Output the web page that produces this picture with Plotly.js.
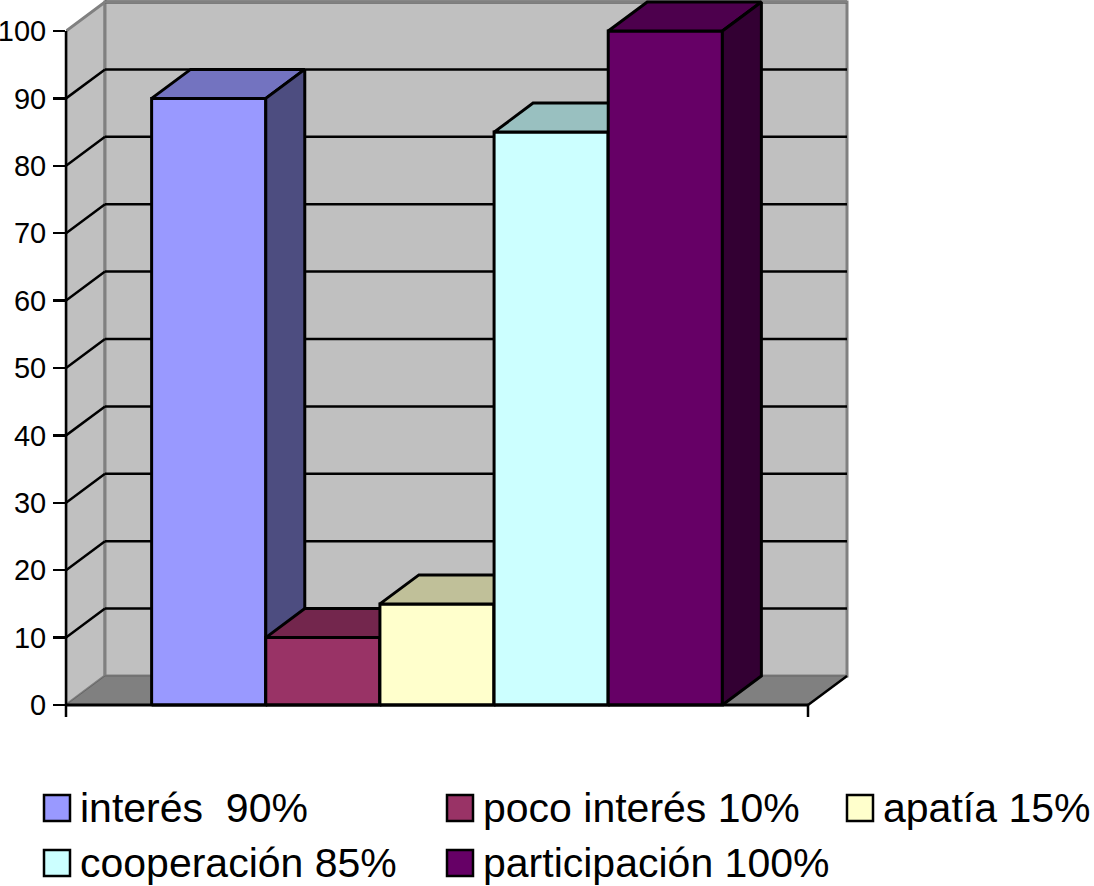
<!DOCTYPE html>
<html>
<head>
<meta charset="utf-8">
<script src="https://cdn.plot.ly/plotly-3.0.1.min.js"></script>
<style>html,body{margin:0;padding:0;background:#fff}#chart{width:1094px;height:886px}</style>
</head>
<body>
<div id="chart"></div>
<script>
// Data
var categories = ['interés\u00A0\u00A090%', 'poco interés 10%', 'apatía 15%', 'cooperación 85%', 'participación 100%'];
var values = [90, 10, 15, 85, 100];
var frontColors = ['#9999FF', '#993366', '#FFFFCC', '#CCFFFF', '#660066'];
var topColors = ['#7373C0', '#73264D', '#C0C099', '#99C0C0', '#4D004D'];
var sideColors = ['#4D4D80', '#4D1933', '#808066', '#668080', '#330033'];
var tickValues = [0, 10, 20, 30, 40, 50, 60, 70, 80, 90, 100];
var gridValues = [10, 20, 30, 40, 50, 60, 70, 80, 90, 100];

// Layout geometry
var W = 1094, H = 886, L = 66;
var unitX = 742 / 6.5, unitY = 6.74;
var xMin = -1.25, xAxisEnd = 5.25, xMax = xMin + (W - L) / unitX;
var yMax = 705 / unitY, yMin = (705 - H) / unitY;
var depthX = 39 / unitX, depthY = 29 / unitY;
function paperX(px) { return (px - L) / (W - L); }
function paperY(py) { return 1 - py / H; }
function xToPaper(x) { return (x - xMin) / (xMax - xMin); }

var traces = [];
values.forEach(function (v, i) {
  var l = i - 0.5, r = i + 0.5;
  var line = { color: '#000', width: 3 };
  function face(xs, ys, color) {
    traces.push({ type: 'scatter', mode: 'lines', x: xs, y: ys, fill: 'toself', fillcolor: color,
      line: line, hoverinfo: 'skip', showlegend: false });
  }
  face([l, r, r, l, l], [0, 0, v, v, 0], frontColors[i]);
  face([l, r, r + depthX, l + depthX, l], [v, v, v + depthY, v + depthY, v], topColors[i]);
  face([r, r + depthX, r + depthX, r, r], [0, depthY, v + depthY, v, 0], sideColors[i]);
});
// carries the y axis (ticks and labels) with no visible mark
traces.push({ type: 'scatter', mode: 'lines', x: [xMin, xMin], y: [0, 100], line: { color: 'rgba(0,0,0,0)', width: 0 },
  hoverinfo: 'skip', showlegend: false });

var shapes = [];
var wallGray = '#C0C0C0', edgeGray = '#808080';
// left wall
shapes.push({ type: 'path', layer: 'below', xref: 'x', yref: 'y',
  path: 'M' + xMin + ',0L' + (xMin + depthX) + ',' + depthY + 'L' + (xMin + depthX) + ',' + (100 + depthY) + 'L' + xMin + ',100Z',
  fillcolor: wallGray, line: { color: edgeGray, width: 3 } });
// back wall
shapes.push({ type: 'rect', layer: 'below', xref: 'x', yref: 'y',
  x0: xMin + depthX, x1: xAxisEnd + depthX, y0: depthY, y1: 100 + depthY,
  fillcolor: wallGray, line: { color: edgeGray, width: 3 } });
// floor
shapes.push({ type: 'path', layer: 'below', xref: 'x', yref: 'y',
  path: 'M' + xMin + ',0L' + (xMin + depthX) + ',' + depthY + 'L' + (xAxisEnd + depthX) + ',' + depthY + 'L' + xAxisEnd + ',0Z',
  fillcolor: edgeGray, line: { color: '#666666', width: 1 } });
// gridlines: back wall and left wall
gridValues.forEach(function (g) {
  shapes.push({ type: 'line', layer: 'below', xref: 'x', yref: 'y',
    x0: xMin + depthX, x1: xAxisEnd + depthX, y0: g + depthY, y1: g + depthY, line: { color: '#000', width: 2.5 } });
  if (g < 100) shapes.push({ type: 'line', layer: 'below', xref: 'x', yref: 'y',
    x0: xMin, x1: xMin + depthX, y0: g, y1: g + depthY, line: { color: '#000', width: 2.5 } });
});
// wall top stays gray over the last gridline
shapes.push({ type: 'line', layer: 'below', xref: 'x', yref: 'y',
  x0: xMin + depthX, x1: xAxisEnd + depthX, y0: 100 + depthY, y1: 100 + depthY, line: { color: edgeGray, width: 3 } });
// right floor edge
shapes.push({ type: 'line', layer: 'above', xref: 'x', yref: 'y',
  x0: xAxisEnd, x1: xAxisEnd + depthX, y0: 0, y1: depthY, line: { color: '#000', width: 2.5 } });
// axis lines and x end ticks
shapes.push({ type: 'line', layer: 'above', xref: 'paper', yref: 'y', x0: 0, x1: 0, y0: -12 / unitY, y1: 100, line: { color: '#000', width: 2.5 } });
shapes.push({ type: 'line', layer: 'above', xref: 'paper', yref: 'y', x0: 0, x1: xToPaper(xAxisEnd), y0: 0, y1: 0, line: { color: '#000', width: 3 } });
shapes.push({ type: 'line', layer: 'above', xref: 'paper', yref: 'y', x0: xToPaper(xAxisEnd), x1: xToPaper(xAxisEnd), y0: -12 / unitY, y1: 0, line: { color: '#000', width: 2.5 } });

// legend (three columns, two rows)
var legendCols = [44, 447, 847, 44, 447];
var legendRows = [808, 808, 808, 863, 863];
var annotations = [];
categories.forEach(function (c, i) {
  var cx = legendCols[i], cy = legendRows[i];
  shapes.push({ type: 'rect', layer: 'above', xref: 'paper', yref: 'paper',
    x0: paperX(cx), x1: paperX(cx + 26), y0: paperY(cy - 13), y1: paperY(cy + 13),
    fillcolor: frontColors[i], line: { color: '#000', width: 2.5 } });
  annotations.push({ xref: 'paper', yref: 'paper', x: paperX(cx + 35), y: paperY(cy), xanchor: 'left', yanchor: 'middle',
    showarrow: false, text: c, align: 'left', borderpad: 0, font: { family: '"Liberation Sans", Arial, sans-serif', size: 41, color: '#000' } });
});

var layout = {
  width: W, height: H,
  margin: { l: L, r: 0, t: 0, b: 0, pad: 0 },
  paper_bgcolor: '#fff', plot_bgcolor: '#fff',
  showlegend: false,
  xaxis: { visible: false, range: [xMin, xMax], fixedrange: true },
  yaxis: { range: [yMin, yMax], fixedrange: true, tickmode: 'array', tickvals: tickValues, ticktext: tickValues.map(String),
    ticks: 'outside', ticklen: 12, tickwidth: 2.5, tickcolor: '#000', showline: false, showgrid: false, zeroline: false,
    ticklabelstandoff: 1,
    tickfont: { family: '"Liberation Sans", Arial, sans-serif', size: 29, color: '#000' } },
  shapes: shapes,
  annotations: annotations
};
Plotly.newPlot('chart', traces, layout, { displayModeBar: false, staticPlot: true });
</script>
</body>
</html>
